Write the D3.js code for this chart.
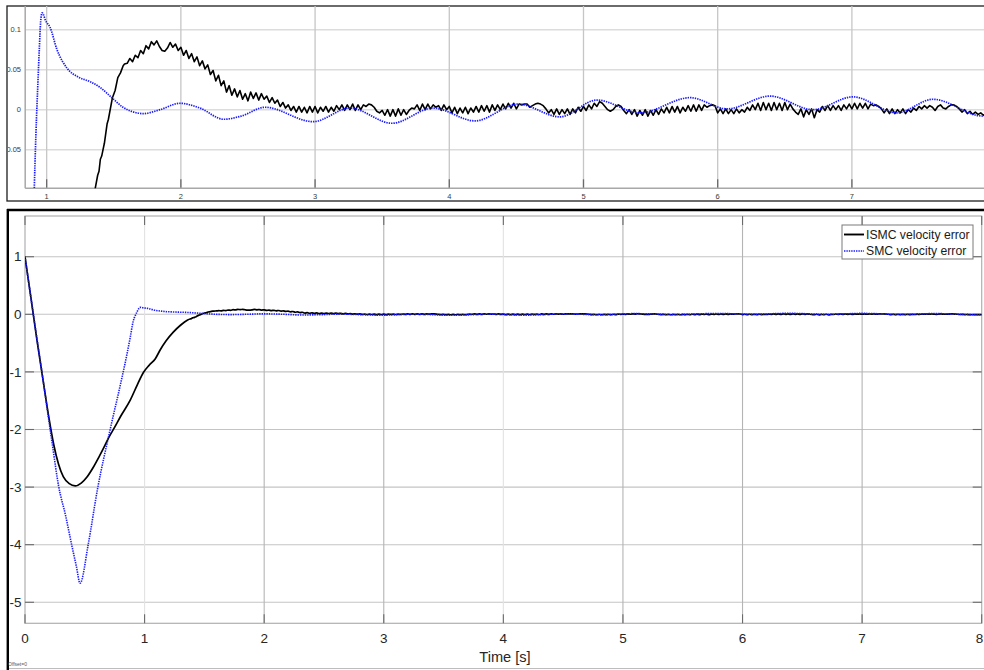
<!DOCTYPE html>
<html><head><meta charset="utf-8">
<script src="https://cdn.jsdelivr.net/npm/d3@7"></script>
<style>
html,body{margin:0;padding:0;background:#fff;}
svg{display:block;font-family:"Liberation Sans",Arial,Helvetica,sans-serif;}
</style>
</head><body>
<svg id="chart" width="984" height="670"></svg>
<script>
// ---------------- DATA ----------------
const seriesNames = ["ISMC velocity error", "SMC velocity error"];
const xLabel = "Time [s]";
const offsetNote = "Offset=0";

// SMC velocity error (blue dotted)
const smcTime = [0, 0.07, 0.15, 0.23, 0.28, 0.34, 0.39, 0.43, 0.46, 0.53, 0.605, 0.71, 0.80, 0.85, 0.88, 0.905, 0.92, 0.935, 0.945, 0.955, 0.966, 0.975, 0.99, 1.025, 1.077, 1.151, 1.233, 1.323, 1.397, 1.479, 1.569, 1.673, 1.718, 1.845, 1.993, 2.142, 2.32, 2.45, 2.627, 2.985, 3.26, 3.573, 3.879, 4.192, 4.512, 4.825, 5.10, 5.421, 5.794, 6.07, 6.39, 6.71, 7.008, 7.336, 7.604, 7.977, 8.0];
const smcError = [1.0, 0.0, -1.12, -2.28, -2.97, -3.5, -4.0, -4.38, -4.67, -3.98, -3.05, -2.02, -1.2, -0.72, -0.4, -0.12, -0.03, 0.035, 0.075, 0.11, 0.121, 0.119, 0.112, 0.103, 0.075, 0.052, 0.041, 0.035, 0.028, 0.016, 0.003, -0.004, -0.005, 0.000, 0.008, 0.002, -0.012, -0.008, 0.003, -0.015, 0.002, -0.017, 0.002, -0.014, 0.007, -0.009, 0.012, -0.004, 0.015, 0.001, 0.017, 0.000, 0.016, -0.004, 0.013, -0.008, -0.008];

// ISMC velocity error (black): transient part
const ismcTimeTransient = [0, 0.05, 0.10, 0.15, 0.20, 0.24, 0.28, 0.32, 0.37, 0.42, 0.47, 0.52, 0.57, 0.62, 0.66, 0.70, 0.75, 0.80, 0.88, 0.94, 0.99, 1.04, 1.09, 1.13, 1.18, 1.24, 1.30, 1.36, 1.38, 1.39, 1.40, 1.41, 1.42, 1.43, 1.45, 1.46, 1.49, 1.51, 1.53, 1.55, 1.57, 1.58];
const ismcErrorTransient = [1.0, 0.28, -0.45, -1.13, -1.8, -2.26, -2.6, -2.82, -2.94, -2.98, -2.93, -2.82, -2.66, -2.47, -2.31, -2.14, -1.96, -1.77, -1.49, -1.22, -1.01, -0.88, -0.77, -0.62, -0.46, -0.31, -0.19, -0.10, -0.082, -0.077, -0.062, -0.058, -0.05, -0.042, -0.018, -0.012, 0.015, 0.024, 0.040, 0.046, 0.055, 0.057];

// ISMC velocity error (black): sampled chattering part, from 1.60 s every 0.02 s
const ismcChatterStart = 1.6;
const ismcChatterStep = 0.02;
const ismcErrorChatter = [
  0.058, 0.064, 0.060, 0.068, 0.065, 0.074, 0.070, 0.080, 0.076, 0.085,
  0.081, 0.086, 0.079, 0.074, 0.073, 0.077, 0.084, 0.078, 0.082, 0.074,
  0.078, 0.068, 0.074, 0.064, 0.070, 0.060, 0.066, 0.055, 0.061, 0.051,
  0.056, 0.044, 0.049, 0.036, 0.043, 0.030, 0.036, 0.022, 0.030, 0.018,
  0.026, 0.016, 0.024, 0.013, 0.020, 0.011, 0.022, 0.014, 0.021, 0.012,
  0.020, 0.013, 0.017, 0.009, 0.015, 0.008, 0.012, 0.004, 0.009, 0.002,
  0.006, -0.001, 0.004, -0.003, 0.004, -0.003, 0.003, -0.004, 0.004, -0.003,
  0.004, -0.004, 0.003, -0.002, 0.004, -0.003, 0.003, -0.002, 0.005, 0.000,
  0.006, -0.001, 0.006, 0.000, 0.007, -0.001, 0.006, 0.000, 0.006, 0.004,
  0.007, 0.006, 0.003, -0.002, -0.004, -0.001, -0.007, 0.000, -0.008, 0.000,
  -0.008, 0.001, -0.007, 0.000, -0.006, -0.001, 0.002, 0.001, 0.006, -0.001,
  0.007, 0.000, 0.007, 0.001, 0.006, 0.003, 0.005, -0.001, 0.006, 0.000,
  0.004, -0.004, 0.003, -0.005, 0.002, -0.004, 0.003, -0.005, 0.002, -0.003,
  0.004, -0.003, 0.005, -0.002, 0.005, -0.003, 0.006, -0.001, 0.006, 0.000,
  0.007, 0.001, 0.008, 0.002, 0.008, 0.001, 0.007, 0.006, 0.007, 0.007,
  0.003, 0.005, 0.007, 0.008, 0.007, 0.005, 0.001, -0.004, 0.000, -0.006,
  0.001, -0.006, 0.000, -0.005, 0.001, -0.006, 0.001, -0.004, 0.003, -0.002,
  0.004, -0.001, 0.006, 0.001, 0.008, 0.004, 0.010, 0.008, 0.004, 0.000,
  -0.002, 0.000, 0.004, 0.006, 0.004, -0.001, -0.005, 0.000, -0.006, 0.000,
  -0.008, -0.001, -0.007, 0.000, -0.008, -0.001, -0.007, 0.000, -0.006, 0.001,
  -0.004, 0.003, -0.004, 0.004, -0.003, 0.004, -0.004, 0.003, -0.002, 0.005,
  -0.002, 0.006, -0.002, 0.006, -0.001, 0.006, 0.003, 0.005, 0.006, 0.005,
  -0.004, 0.001, -0.005, 0.001, -0.005, 0.000, -0.005, 0.001, -0.004, 0.000,
  -0.003, 0.003, -0.001, 0.006, 0.000, 0.008, -0.001, 0.009, 0.000, 0.008,
  -0.001, 0.009, 0.000, 0.008, -0.001, 0.009, 0.000, 0.007, 0.001, -0.003,
  -0.006, 0.001, -0.009, 0.000, -0.006, 0.001, -0.010, 0.000, -0.003, 0.004,
  -0.001, 0.005, -0.001, 0.005, 0.000, 0.005, -0.001, 0.006, 0.001, 0.007,
  0.001, 0.008, 0.001, 0.008, 0.002, 0.008, 0.001, 0.007, 0.005, 0.006,
  0.004, 0.001, -0.004, 0.001, -0.005, 0.001, -0.005, 0.000, -0.004, 0.001,
  -0.005, 0.000, -0.003, 0.002, -0.001, 0.004, 0.001, 0.005, 0.002, 0.005,
  0.003, -0.001, 0.004, 0.006, 0.002, 0.001, 0.004, 0.006, 0.006, 0.004,
  0.001, -0.003, 0.000, -0.005, -0.002, -0.006, -0.003, -0.006, -0.004, -0.007,
  -0.005
];

// Axis ticks
const mainXTicks = [0, 1, 2, 3, 4, 5, 6, 7, 8];
const mainYTicks = [1, 0, -1, -2, -3, -4, -5];
const zoomXTicks = [1, 2, 3, 4, 5, 6, 7];
const zoomYTicks = [-0.05, 0, 0.05, 0.1];
const zoomYTickLabels = ["-0.05", "0", "0.05", "0.1"];

// ---------------- BUILD ----------------
const smc = smcTime.map((t, i) => [t, smcError[i]]);
const ismc = ismcTimeTransient.map((t, i) => [t, ismcErrorTransient[i]])
  .concat(ismcErrorChatter.map((v, i) => [ismcChatterStart + i * ismcChatterStep, v]));

const svg = d3.select("#chart");
const defs = svg.append("defs");
const BLUE = "#1a1aff";

// ============ TOP (zoomed) PANEL ============
const zp = {left: 25.2, right: 986.1, top: 6, bottom: 188.3};
const xZ = d3.scaleLinear().domain([0.84, 8]).range([zp.left, zp.right]);
const yZ = d3.scaleLinear().domain([-0.0983, 0.1296]).range([zp.bottom, zp.top]);

defs.append("clipPath").attr("id", "clipZ").append("rect")
  .attr("x", zp.left).attr("y", zp.top).attr("width", zp.right - zp.left).attr("height", zp.bottom - zp.top);
defs.append("clipPath").attr("id", "clipZFrame").append("rect")
  .attr("x", 8).attr("y", 6).attr("width", 980).attr("height", 195);

const gZ = svg.append("g");
gZ.append("rect").attr("x", 7).attr("y", 6).attr("width", 990).attr("height", 195)
  .attr("fill", "#fff").attr("stroke", "#1e1e1e").attr("stroke-width", 1.3);

gZ.append("g").selectAll("line").data(zoomYTicks).join("line")
  .attr("x1", zp.left).attr("x2", zp.right)
  .attr("y1", d => yZ(d)).attr("y2", d => yZ(d))
  .attr("stroke", "#dcdcdc").attr("stroke-width", 1.5);
gZ.append("g").selectAll("line").data(zoomXTicks).join("line")
  .attr("x1", d => xZ(d)).attr("x2", d => xZ(d))
  .attr("y1", zp.top).attr("y2", zp.bottom)
  .attr("stroke", "#c6c6c6").attr("stroke-width", 1.3);
gZ.append("g").selectAll("line").data(zoomXTicks).join("line")
  .attr("x1", d => xZ(d)).attr("x2", d => xZ(d))
  .attr("y1", zp.bottom - 9).attr("y2", zp.bottom)
  .attr("stroke", "#6a6a6a").attr("stroke-width", 1.3);
gZ.append("line").attr("x1", zp.left).attr("x2", zp.left).attr("y1", zp.top).attr("y2", zp.bottom)
  .attr("stroke", "#a8a8a8").attr("stroke-width", 1.5);
gZ.append("line").attr("x1", zp.left).attr("x2", zp.right).attr("y1", zp.bottom).attr("y2", zp.bottom)
  .attr("stroke", "#a8a8a8").attr("stroke-width", 1.5);

const lineZBlack = d3.line().x(d => xZ(d[0])).y(d => yZ(d[1])).curve(d3.curveLinear);
const lineZ = d3.line().x(d => xZ(d[0])).y(d => yZ(d[1])).curve(d3.curveMonotoneX);
const gZL = gZ.append("g").attr("clip-path", "url(#clipZ)");
gZL.append("path").datum(ismc).attr("d", lineZBlack).attr("fill", "none")
  .attr("stroke", "#000").attr("stroke-width", 1.6).attr("stroke-linejoin", "round");
gZL.append("path").datum(smc).attr("d", lineZ).attr("fill", "none")
  .attr("stroke", BLUE).attr("stroke-width", 1.7).attr("stroke-dasharray", "1.4,1");

gZ.append("g").selectAll("text").data(zoomXTicks).join("text")
  .attr("x", d => xZ(d)).attr("y", 196).attr("dy", "0.35em")
  .attr("text-anchor", "middle").attr("font-size", 7.5).attr("fill", "#3a3a3a").text(d => d);
gZ.append("g").attr("clip-path", "url(#clipZFrame)").selectAll("text").data(zoomYTicks).join("text")
  .attr("x", 21).attr("y", d => yZ(d)).attr("dy", "0.35em")
  .attr("text-anchor", "end").attr("font-size", 7.5).attr("fill", "#3a3a3a")
  .text((d, i) => zoomYTickLabels[i]);

// ============ BOTTOM (main) PANEL ============
const mp = {left: 25, right: 981.7, top: 216, bottom: 623.3};
const xM = d3.scaleLinear().domain([0, 8]).range([mp.left, mp.right]);
const yM = d3.scaleLinear().domain([-5.365, 1.707]).range([mp.bottom, mp.top]);

defs.append("clipPath").attr("id", "clipM").append("rect")
  .attr("x", mp.left).attr("y", mp.top).attr("width", mp.right - mp.left).attr("height", mp.bottom - mp.top);

const gM = svg.append("g");
// frame
gM.append("line").attr("x1", 7.8).attr("x2", 7.8).attr("y1", 209).attr("y2", 670)
  .attr("stroke", "#000").attr("stroke-width", 2.4);
gM.append("line").attr("x1", 7).attr("x2", 984).attr("y1", 210).attr("y2", 210)
  .attr("stroke", "#000").attr("stroke-width", 2.6);
gM.append("line").attr("x1", 9).attr("x2", 984).attr("y1", 668.5).attr("y2", 668.5)
  .attr("stroke", "#bdbdbd").attr("stroke-width", 1);

// grid
gM.append("g").selectAll("line").data(mainYTicks).join("line")
  .attr("x1", mp.left).attr("x2", mp.right)
  .attr("y1", d => yM(d)).attr("y2", d => yM(d))
  .attr("stroke", "#c4c4c4").attr("stroke-width", 1.1);
const lightX = new Set([1, 4]);
gM.append("g").selectAll("line").data(mainXTicks.filter(d => d > 0 && d < 8)).join("line")
  .attr("x1", d => xM(d)).attr("x2", d => xM(d))
  .attr("y1", mp.top).attr("y2", mp.bottom)
  .attr("stroke", d => lightX.has(d) ? "#e2e2e2" : "#b4b4b4").attr("stroke-width", 1.1);
// plot box
gM.append("rect").attr("x", mp.left).attr("y", mp.top)
  .attr("width", mp.right - mp.left).attr("height", mp.bottom - mp.top)
  .attr("fill", "none").attr("stroke", "#b0b0b0").attr("stroke-width", 1.2);
// ticks
const tk = 9;
gM.append("g").selectAll("line").data(mainYTicks).join("line")
  .attr("x1", mp.left).attr("x2", mp.left + tk).attr("y1", d => yM(d)).attr("y2", d => yM(d))
  .attr("stroke", "#6a6a6a").attr("stroke-width", 1.1);
gM.append("g").selectAll("line").data(mainYTicks).join("line")
  .attr("x1", mp.right - tk).attr("x2", mp.right).attr("y1", d => yM(d)).attr("y2", d => yM(d))
  .attr("stroke", "#6a6a6a").attr("stroke-width", 1.1);
gM.append("g").selectAll("line").data(mainXTicks).join("line")
  .attr("x1", d => xM(d)).attr("x2", d => xM(d)).attr("y1", mp.bottom - tk).attr("y2", mp.bottom)
  .attr("stroke", "#6a6a6a").attr("stroke-width", 1.1);
gM.append("g").selectAll("line").data(mainXTicks).join("line")
  .attr("x1", d => xM(d)).attr("x2", d => xM(d)).attr("y1", mp.top).attr("y2", mp.top + tk)
  .attr("stroke", "#6a6a6a").attr("stroke-width", 1.1);

// series
const lineM = d3.line().x(d => xM(d[0])).y(d => yM(d[1])).curve(d3.curveMonotoneX);
const gML = gM.append("g").attr("clip-path", "url(#clipM)");
gML.append("path").datum(ismc).attr("d", lineM).attr("fill", "none")
  .attr("stroke", "#000").attr("stroke-width", 1.7).attr("stroke-linejoin", "round");
gML.append("path").datum(smc).attr("d", lineM).attr("fill", "none")
  .attr("stroke", BLUE).attr("stroke-width", 1.6).attr("stroke-dasharray", "1.4,1");

// tick labels
gM.append("g").selectAll("text").data(mainXTicks).join("text")
  .attr("x", d => Math.min(xM(d), 979.5)).attr("y", 638).attr("dy", "0.35em")
  .attr("text-anchor", "middle").attr("font-size", 13.5).attr("fill", "#262626").text(d => d);
gM.append("g").selectAll("text").data(mainYTicks).join("text")
  .attr("x", 21.5).attr("y", d => yM(d)).attr("dy", "0.35em")
  .attr("text-anchor", "end").attr("font-size", 13.5).attr("fill", "#262626").text(d => d);
gM.append("text").attr("x", 505).attr("y", 657).attr("dy", "0.35em")
  .attr("text-anchor", "middle").attr("font-size", 14.6).attr("fill", "#262626").text(xLabel);
gM.append("text").attr("x", 8).attr("y", 666).attr("font-size", 5).attr("fill", "#555").text(offsetNote);

// legend
const lg = gM.append("g");
lg.append("rect").attr("x", 842).attr("y", 225).attr("width", 131).attr("height", 34)
  .attr("fill", "#fff").attr("stroke", "#7a7a7a").attr("stroke-width", 1);
const legendStyles = [
  {stroke: "#000", dash: null, w: 1.9},
  {stroke: BLUE, dash: "1.4,1", w: 1.6}
];
seriesNames.forEach((name, i) => {
  const y = 234.5 + i * 16.5;
  lg.append("line").attr("x1", 844).attr("x2", 864).attr("y1", y).attr("y2", y)
    .attr("stroke", legendStyles[i].stroke).attr("stroke-width", legendStyles[i].w)
    .attr("stroke-dasharray", legendStyles[i].dash);
  lg.append("text").attr("x", 866).attr("y", y).attr("dy", "0.35em")
    .attr("font-size", 12.2).attr("fill", "#1a1a1a").text(name);
});
</script>
</body></html>
